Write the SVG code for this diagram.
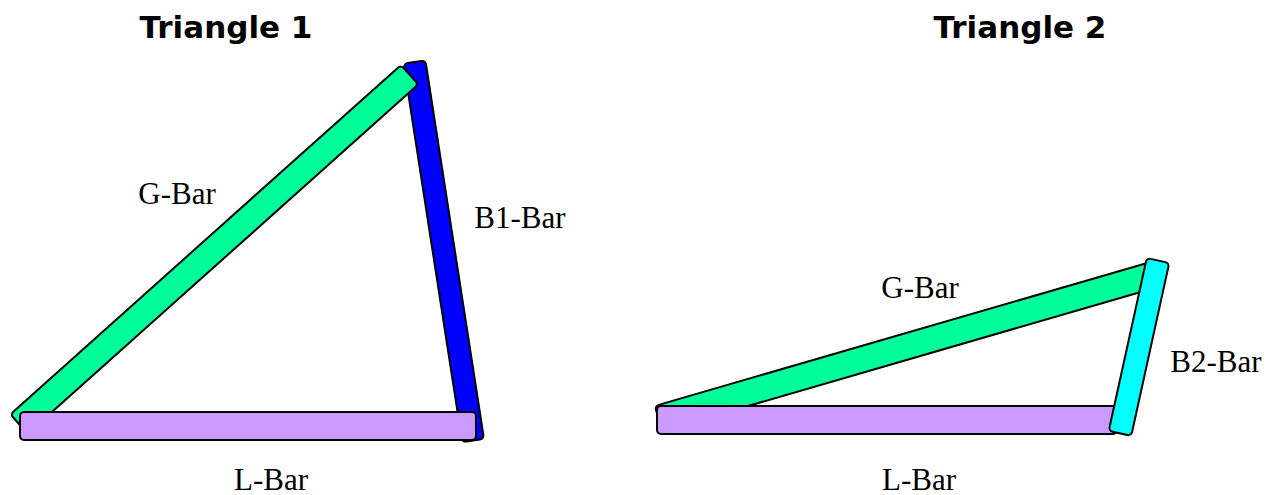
<svg xmlns="http://www.w3.org/2000/svg" width="1273" height="495" viewBox="0 0 1273 495">
<style>
.bar{stroke:#000;stroke-width:2;}
.title{font-family:"DejaVu Sans",Verdana,sans-serif;font-weight:bold;font-size:31px;fill:#000;text-anchor:middle;}
.lbl{font-family:"Liberation Serif","Times New Roman",serif;font-size:31px;fill:#000;text-anchor:middle;}
</style>
<rect width="1273" height="495" fill="#fff"/>
<text class="title" x="226" y="38">Triangle 1</text>
<text class="title" x="1020" y="38">Triangle 2</text>
<g id="triangle1">
  <g id="b1-bar"><rect class="bar" x="0" y="-11" width="383" height="22" rx="4" fill="#0000ff" transform="translate(414.5,62) rotate(81.2)"/></g>
  <g id="g-bar-1"><rect class="bar" x="0" y="-13" width="524" height="26" rx="4" fill="#00ff99" transform="translate(19,424) rotate(-41.8)"/></g>
  <g id="l-bar-1"><rect class="bar" x="20" y="412" width="456" height="28" rx="4" fill="#cc99ff"/></g>
  <text class="lbl" x="177" y="204">G-Bar</text>
  <text class="lbl" x="520" y="228">B1-Bar</text>
  <text class="lbl" x="271" y="490">L-Bar</text>
</g>
<g id="triangle2">
  <g id="g-bar-2"><rect class="bar" x="0" y="-13" width="515" height="26" rx="4" fill="#00ff99" transform="translate(658.5,418.5) rotate(-16.2)"/></g>
  <g id="l-bar-2"><rect class="bar" x="657" y="406" width="460" height="28" rx="4" fill="#cc99ff"/></g>
  <g id="b2-bar"><rect class="bar" x="0" y="-11.5" width="177" height="23" rx="4" fill="#00ffff" transform="translate(1158,260.5) rotate(102.4)"/></g>
  <text class="lbl" x="920" y="298">G-Bar</text>
  <text class="lbl" x="1216" y="372">B2-Bar</text>
  <text class="lbl" x="919" y="490">L-Bar</text>
</g>
</svg>
